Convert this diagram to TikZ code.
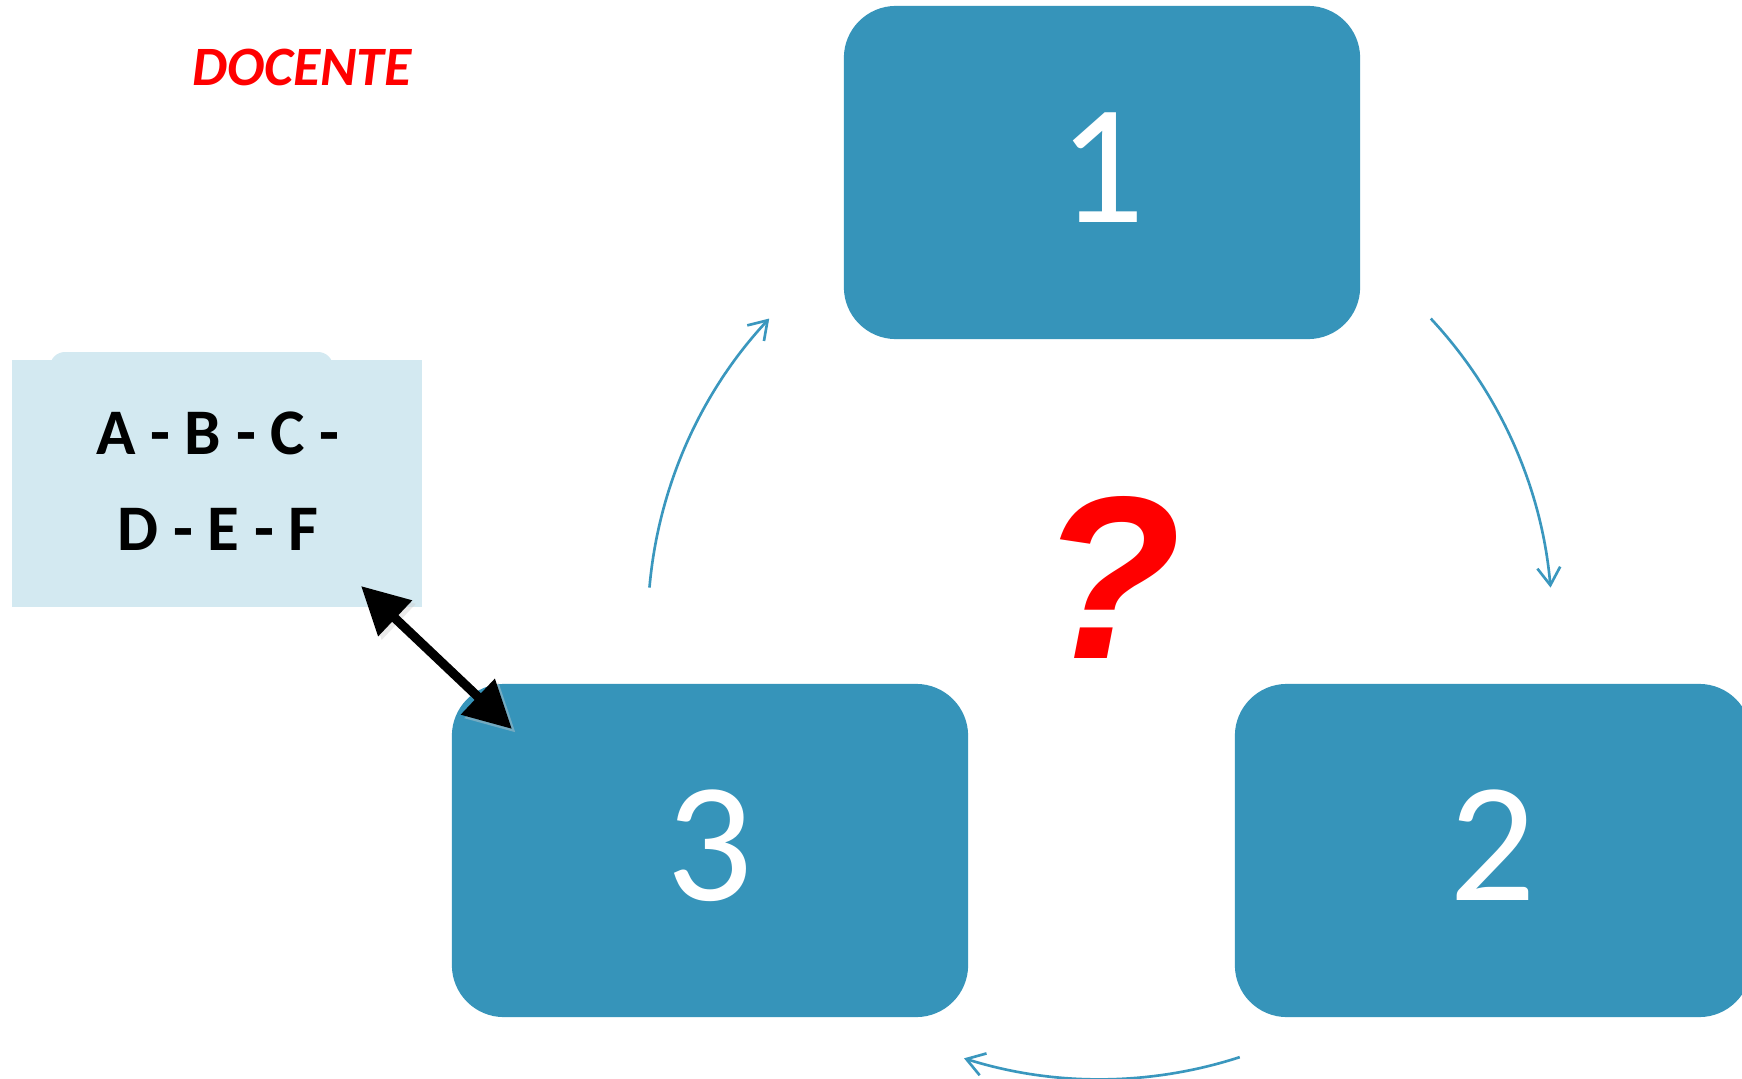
\documentclass[tikz,border=0pt]{standalone}
\usepackage{fontspec}
\setmainfont{Carlito}
\newfontfamily\qfont{Liberation Sans}
\usetikzlibrary{arrows.meta}
\definecolor{boxblue}{RGB}{54,148,186}
\definecolor{lightbl}{RGB}{211,233,241}
\definecolor{arcblue}{RGB}{58,151,190}
\tikzset{
  numbox/.style={fill=boxblue, draw=none, rounded corners=0.52cm, minimum width=5.16cm, minimum height=3.33cm, inner sep=0pt},
  numtext/.style={text=white, font=\fontsize{48.5}{58}\selectfont, anchor=base, inner sep=0pt},
  cyc/.style={draw=arcblue, line width=0.75pt, -{Straight Barb[length=5pt,width=6.5pt,line width=0.75pt]}},
  bigarrow/.style={line width=2.6pt, {Triangle[length=13.4pt,width=13.4pt]}-{Triangle[length=13.4pt,width=13.4pt]}},
}
\begin{document}
\begin{tikzpicture}[x=0.01cm,y=0.01cm]
\clip (0,0) rectangle (1742,-1079);
\fill[white] (0,0) rectangle (1742,-1079);
% boxes
\node[numbox] (b1) at (1102,-172.5) {};
\node[numbox] (b3) at (710,-850.5) {};
\node[numbox] (b2) at (1493,-850.5) {};
\node[numtext] (t1) at ([yshift=-0.5cm]b1.center) {1};
\node[numtext] (t3) at ([yshift=-0.5cm]b3.center) {3};
\node[numtext] (t2) at ([yshift=-0.5cm]b2.center) {2};
% light blue box
\fill[lightbl, rounded corners=0.15cm] (50,-352) rectangle (333,-420);
\node[fill=lightbl, minimum width=4.10cm, minimum height=2.47cm, inner sep=0pt] (lb) at (217,-483.5) {};
\node[font=\bfseries\fontsize{18.5}{27.4}\selectfont, align=center, inner sep=0pt] (abc) at (218,-481) {A - B - C -\\D - E - F};
% title
\node[text=red, font=\bfseries\itshape\fontsize{15.8}{19}\selectfont, anchor=base, inner sep=0pt] (doc) at (302,-86) {DOCENTE};
% question mark
\node[text=red, font=\qfont\bfseries\itshape\fontsize{66}{80}\selectfont, anchor=base, inner sep=0pt] (qm) at (1110,-658) {?};
% cycle arrows
\coordinate (ctr) at (1100,-627);
\draw[cyc] (ctr) ++(175:4.52cm) arc[start angle=175, end angle=137, radius=4.52cm];
\draw[cyc] (ctr) ++(43:4.52cm) arc[start angle=43, end angle=5, radius=4.52cm];
\draw[cyc] (ctr) ++(-72:4.52cm) arc[start angle=-72, end angle=-107.5, radius=4.52cm];
% black double arrow
\coordinate (p1) at (361,-586);
\coordinate (p2) at (512,-729);
\draw[bigarrow, black!20, opacity=0.4, transform canvas={xshift=1pt,yshift=-1pt}] (p1) -- (p2);
\draw[bigarrow] (p1) -- (p2);
\end{tikzpicture}
\end{document}
